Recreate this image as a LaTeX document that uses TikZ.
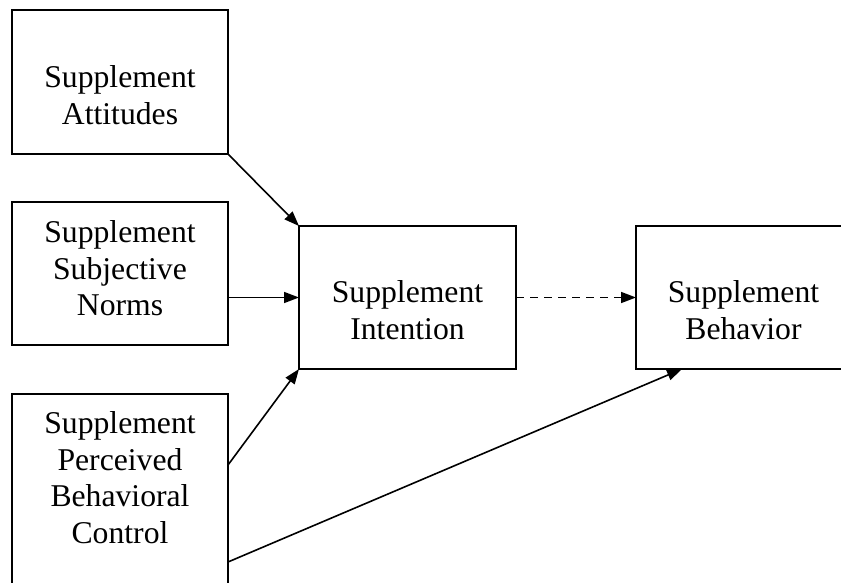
\documentclass[tikz,border=0pt]{standalone}
\usepackage{fontspec}
\setmainfont{Liberation Serif}
\usetikzlibrary{arrows.meta}
\begin{document}
\begin{tikzpicture}[x=1bp,y=-1bp,
  box/.style={draw, line width=2bp, rectangle, inner sep=0pt, outer sep=0pt},
  lbl/.style={anchor=north, align=center, inner sep=0pt,
              font=\fontsize{31.8}{36.8}\selectfont},
  link/.style={line width=1.6bp, -{Triangle[length=15bp,width=11bp]}}]
  \useasboundingbox (0,0) rectangle (841,583);
  \clip (0,0) rectangle (841,583);

  % boxes
  \node[box, minimum width=216bp, minimum height=144bp] (att) at (120,82) {};
  \node[box, minimum width=216bp, minimum height=143bp] (norm) at (120,273.5) {};
  \node[box, minimum width=216bp, minimum height=240bp] (pbc) at (120,514) {};
  \node[box, minimum width=217bp, minimum height=143bp] (int) at (407.5,297.5) {};
  \node[box, minimum width=215bp, minimum height=143bp] (beh) at (743.5,297.5) {};

  % box texts
  \node[lbl] (attT) at (120,65.4) {Supplement\\Attitudes};
  \node[lbl] (normT) at (120,220.4) {Supplement\\Subjective\\Norms};
  \node[lbl] (pbcT) at (120,411.4) {Supplement\\Perceived\\Behavioral\\Control};
  \node[lbl] (intT) at (407.5,280.4) {Supplement\\Intention};
  \node[lbl] (behT) at (743.5,280.4) {Supplement\\Behavior};

  % paths
  \draw[link] (att.south east) -- (int.north west);
  \draw[link] (int.west -| norm.east) -- (int.west);
  \draw[link] ([yshift=-71bp]pbc.north east) -- (int.south west);
  \draw[link] ([yshift=-168bp]pbc.north east) -- ([xshift=46bp]beh.south west);
  \draw[link, dash pattern=on 8bp off 6bp] (int.east) -- (beh.west);
\end{tikzpicture}
\end{document}
